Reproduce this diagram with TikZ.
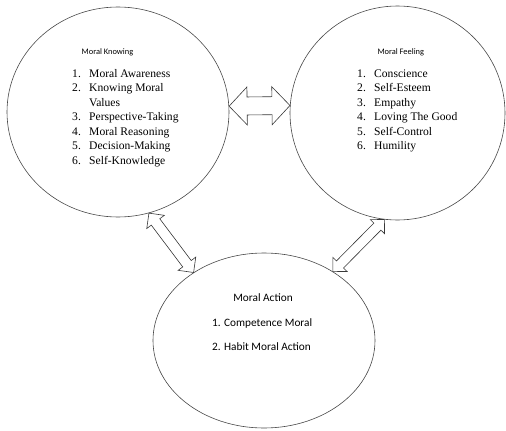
\documentclass[tikz,border=0pt]{standalone}
\usepackage{fontspec}
\setmainfont{Liberation Serif}
\newfontfamily\cali{Carlito}
\usetikzlibrary{calc,shapes.geometric}
\tikzset{
	bubble/.style={draw=black!72, line width=0.6pt, ellipse, inner sep=0pt},
	blockarrow/.style={draw=black!78, line width=0.6pt, fill=white},
	headtext/.style={font=\cali\fontsize{8.4}{10}\selectfont, inner sep=0pt},
	listtext/.style={font=\fontsize{11.6}{14.5}\selectfont, inner sep=0pt, anchor=north west},
	acttext/.style={font=\cali\fontsize{11.3}{13}\selectfont, inner sep=0pt}
}
% (tip)(tip){head length}{head half width}{shaft half width}
\def\dblarrow(#1)(#2)#3#4#5{
	\path (#1) coordinate (da) (#2) coordinate (db);
	\path ($(da)!#3!(db)$) coordinate (ha) ($(db)!#3!(da)$) coordinate (hb);
	\draw[blockarrow] (da) -- ($(ha)!#4!90:(db)$) -- ($(ha)!#5!90:(db)$)
		-- ($(hb)!#5!-90:(da)$) -- ($(hb)!#4!-90:(da)$) -- (db)
		-- ($(hb)!#4!90:(da)$) -- ($(hb)!#5!90:(da)$)
		-- ($(ha)!#5!-90:(db)$) -- ($(ha)!#4!-90:(db)$) -- cycle;
}

\begin{document}
\begin{tikzpicture}[x=1pt, y=-1pt]
			%%%%% START %%%%%
			\useasboundingbox (0, 0) rectangle (506, 431);
			
			\node[bubble, minimum width=222pt, minimum height=210pt] (know) at (118, 112) {};
			\node[bubble, minimum width=215pt, minimum height=214pt] (feel) at (397.5, 113) {};
			\node[bubble, minimum width=222pt, minimum height=175pt] (act) at (264, 340.5) {};
			
			\node[headtext] (knowhead) at (107.5, 52) {Moral Knowing};
			\node[listtext] (knowlist) at (72, 67) {\begin{tabular}{@{}p{17pt}@{}l@{}}
					1. & Moral Awareness\\
					2. & Knowing Moral\\
					   & Values\\
					3. & Perspective-Taking\\
					4. & Moral Reasoning\\
					5. & Decision-Making\\
					6. & Self-Knowledge
				\end{tabular}};
			
			\node[headtext] (feelhead) at (400.8, 52) {Moral Feeling};
			\node[listtext] (feellist) at (357, 67) {\begin{tabular}{@{}p{17pt}@{}l@{}}
					1. & Conscience\\
					2. & Self-Esteem\\
					3. & Empathy\\
					4. & Loving The Good\\
					5. & Self-Control\\
					6. & Humility
				\end{tabular}};
			
			\node[acttext] (acthead) at (263, 298) {Moral Action};
			\node[acttext, anchor=west] (actone) at (212, 323) {1. Competence Moral};
			\node[acttext, anchor=west] (acttwo) at (212, 347) {2. Habit Moral Action};
			
			\dblarrow(know.3)(feel.176){18pt}{19pt}{9pt}
			\dblarrow(know.-73)(act.136){11pt}{11pt}{5.3pt}
			\dblarrow(feel.-97)(act.45){10pt}{10pt}{5pt}
			
			%%%%% END %%%%%
		\end{tikzpicture}
\end{document}
